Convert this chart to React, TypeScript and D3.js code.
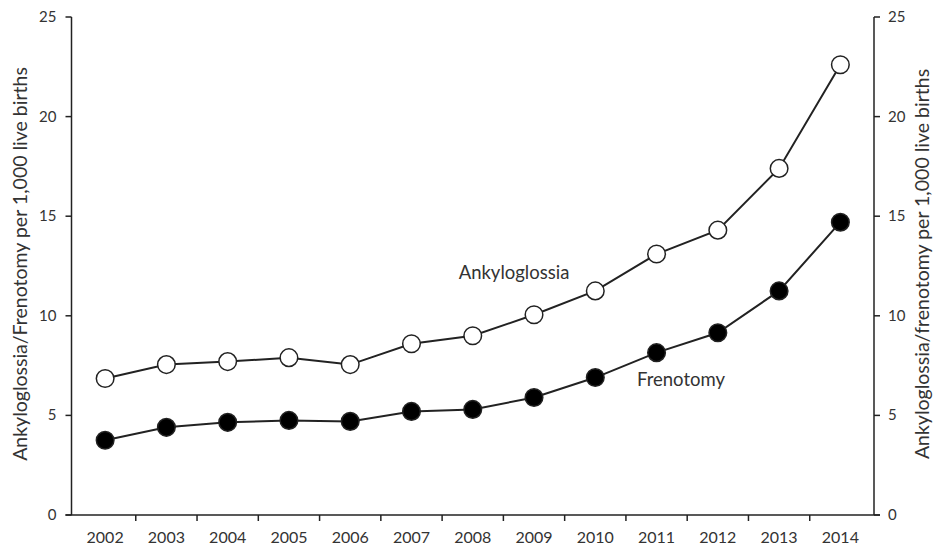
import { useEffect, useRef } from 'react';
import * as d3 from 'd3';

const years = ['2002', '2003', '2004', '2005', '2006', '2007', '2008', '2009', '2010', '2011', '2012', '2013', '2014'];
const ankyloglossia = [6.85, 7.55, 7.7, 7.9, 7.55, 8.6, 9.0, 10.05, 11.25, 13.1, 14.3, 17.4, 22.6];
const frenotomy = [3.75, 4.4, 4.65, 4.75, 4.7, 5.2, 5.3, 5.9, 6.9, 8.15, 9.15, 11.25, 14.7];
const yTicks = [0, 5, 10, 15, 20, 25];

export default function App() {
    const svgRef = useRef<SVGSVGElement>(null);

    useEffect(() => {
        if (!svgRef.current) return;
        const W = 935, H = 546;
        const margin = { top: 17, right: 61, bottom: 31, left: 71.5 };
        const w = W - margin.left - margin.right;
        const h = H - margin.top - margin.bottom;
        const font = 'Lato, "Open Sans", sans-serif';
        const ink = '#222';
        const txt = '#333';

        const svg = d3.select(svgRef.current);
        svg.selectAll('*').remove();
        const g = svg.append('g').attr('transform', `translate(${margin.left},${margin.top})`);

        // categories sit slightly inside the two vertical axes
        const x = d3.scaleBand().domain(years).range([3, w - 3]);
        const y = d3.scaleLinear().domain([0, 25]).range([h, 0]);
        const cx = (d: string) => x(d)! + x.bandwidth() / 2;

        // frame lines
        g.append('line').attr('x1', 0).attr('x2', 0).attr('y1', 0).attr('y2', h).attr('stroke', ink).attr('stroke-width', 1.5);
        g.append('line').attr('x1', w).attr('x2', w).attr('y1', 0).attr('y2', h).attr('stroke', ink).attr('stroke-width', 1.5);
        g.append('line').attr('x1', -6).attr('x2', w + 6).attr('y1', h).attr('y2', h).attr('stroke', ink).attr('stroke-width', 1.5);

        // y ticks both sides
        for (const t of yTicks) {
            g.append('line').attr('x1', -6).attr('x2', 0).attr('y1', y(t)).attr('y2', y(t)).attr('stroke', ink).attr('stroke-width', 1.5);
            g.append('line').attr('x1', w).attr('x2', w + 6).attr('y1', y(t)).attr('y2', y(t)).attr('stroke', ink).attr('stroke-width', 1.5);
            g.append('text').attr('x', -15).attr('y', y(t) + 5).attr('text-anchor', 'end')
                .attr('font-family', font).attr('font-size', 15).attr('fill', txt).text(t);
            g.append('text').attr('x', w + 14).attr('y', y(t) + 5).attr('text-anchor', 'start')
                .attr('font-family', font).attr('font-size', 15).attr('fill', txt).text(t);
        }

        // x ticks between categories
        for (const d of years.slice(1)) {
            const b = x(d)!;
            g.append('line').attr('x1', b).attr('x2', b).attr('y1', h).attr('y2', h + 6).attr('stroke', ink).attr('stroke-width', 1.5);
        }
        g.selectAll('.xl').data(years).join('text').attr('class', 'xl')
            .attr('x', d => cx(d)).attr('y', h + 28).attr('text-anchor', 'middle')
            .attr('font-family', font).attr('font-size', 16).attr('fill', txt).text(d => d);

        // axis titles
        svg.append('text').attr('transform', `translate(27,${margin.top + h / 2 - 2}) rotate(-90)`)
            .attr('text-anchor', 'middle').attr('font-family', font).attr('font-size', 19.5).attr('fill', txt)
            .text('Ankyloglossia/Frenotomy per 1,000 live births');
        svg.append('text').attr('transform', `translate(929,${margin.top + h / 2 - 2}) rotate(-90)`)
            .attr('text-anchor', 'middle').attr('font-family', font).attr('font-size', 19.5).attr('fill', txt)
            .text('Ankyloglossia/frenotomy per 1,000 live births');

        const line = d3.line<number>().x((_, i) => cx(years[i])).y(d => y(d));
        const series = [
            { vals: ankyloglossia, fill: '#fff' },
            { vals: frenotomy, fill: '#000' },
        ];
        for (const s of series) {
            g.append('path').datum(s.vals).attr('d', line).attr('fill', 'none').attr('stroke', ink).attr('stroke-width', 2);
            g.selectAll(null).data(s.vals).join('circle')
                .attr('cx', (_, i) => cx(years[i])).attr('cy', d => y(d)).attr('r', 8.8)
                .attr('fill', s.fill).attr('stroke', ink).attr('stroke-width', 1.5);
        }

        // series labels
        svg.append('text').attr('x', 514).attr('y', 279).attr('text-anchor', 'middle')
            .attr('font-family', font).attr('font-size', 18.5).attr('fill', txt).text('Ankyloglossia');
        svg.append('text').attr('x', 681).attr('y', 386).attr('text-anchor', 'middle')
            .attr('font-family', font).attr('font-size', 18.5).attr('fill', txt).text('Frenotomy');
    }, []);

    return <svg ref={svgRef} width={935} height={546} style={{ display: 'block', position: 'absolute', left: 0, top: 0, background: '#fff' }} />;
}
